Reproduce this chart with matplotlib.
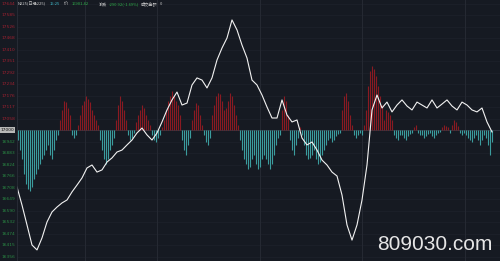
import numpy as np
import matplotlib
matplotlib.use("Agg")
import matplotlib.pyplot as plt

plt.rcParams['font.family'] = ['Noto Sans CJK SC', 'DejaVu Sans']

BASE = 17000
# Index level (white line), sampled along the session
line_vals = [16710, 16618, 16517, 16415, 16390, 16451, 16532, 16583, 16608, 16629,
             16644, 16685, 16720, 16756, 16807, 16822, 16786, 16797, 16837, 16858,
             16888, 16898, 16924, 16949, 16985, 17010, 16975, 16949, 16985, 17041,
             17102, 17153, 17193, 17127, 17137, 17229, 17265, 17254, 17214, 17265,
             17356, 17417, 17468, 17560, 17509, 17432, 17366, 17254, 17229, 17178,
             17117, 17061, 17061, 17153, 17076, 17041, 17051, 16959, 16924, 16939,
             16898, 16847, 16822, 16786, 16766, 16669, 16517, 16440, 16517, 16644,
             16822, 17102, 17178, 17112, 17142, 17092, 17127, 17153, 17122, 17102,
             17142, 17127, 17112, 17153, 17112, 17132, 17153, 17122, 17102, 17142,
             17127, 17102, 17092, 17112, 17041, 16990]

# Deviation bars relative to 17000 (points)
bar_vals = [-50, -100, -150,
            -225, -275, -300, -310, -290, -250,
            -225, -200, -175, -150, -125,
            -100, -75, -125, -150, -100, -50, -25,
            50, 100, 150, 140, 110, 75,
            -25, -40, -25, 25,
            75, 125, 150, 175, 160, 140, 100, 75, 50, 25,
            -50, -100, -150, -175, -150, -100, -75, -40,
            50, 125, 175, 150, 100, 50,
            -25, -50, -40, -15,
            40, 75, 100, 125, 110, 75, 50, 25,
            -25, -50, -60, -40, -25, 15,
            50, 100, 150, 175, 200, 175, 150, 125, 75,
            -50, -100, -125, -75, -40,
            50, 100, 135, 125, 75, 25,
            -25, -60, -75, -40,
            75, 125, 175, 190, 185, 150, 100, 110, 150, 190, 175, 125, 75, 25,
            -50, -100, -150, -175, -200, -190, -150, -125, -175, -200, -190, -150,
            -125, -150, -175, -200, -175, -125, -75, -40, -25,
            100, 175, 150, 75,
            -50, -100, -125, -75, -40, 15,
            -25, -75, -125, -150, -140, -125, -100, -150, -175, -165, -125, -100,
            -75, -50, -40, -60, -50, -30, -20, -15,
            100, 175, 190, 150, 75, 25,
            -25, -40, -25, -15, -25, 25,
            100, 225, 300, 325, 310, 275, 225, 175, 125, 50,
            100, 90, 75, 50, -25, -40, -50, -25,
            -25, -40, -50, -30, -20, -15, 15, 25, -15, -25,
            -25, -40, -30, -20, -15, -30, -40, -25, -15, -10, 15, 25, 20, 15, -15,
            25, 50, 40, 20, -15, -25, -15,
            -25, -40, -50, -60, -40, -25, -50, -75, -50, -25, -40, -75, -125, -60]

tick_step = 58.5
tick_vals = [BASE + tick_step * k for k in range(-11, 12)]

header_texts = ["N225(日经225)", "15:25", "价", "16901.42", "涨跌", "-290.92(-1.69%)", "成交金额", "0"]
header_colors = ["#c8c8c8", "#3fb8c8", "#c8c8c8", "#2fb04a", "#c8c8c8", "#2fb04a", "#c8c8c8", "#c8c8c8"]
header_x = [18, 50, 64, 72, 99, 109, 141, 160]

bg = "#161a22"
W, H = 500, 261
fig = plt.figure(figsize=(W / 100, H / 100), dpi=100, facecolor=bg)
ax = fig.add_axes([17 / W, 0, (W - 17) / W, 1])
ax.set_facecolor(bg)

px_per_pt = 11.5 / tick_step
ymax = BASE + 130 / px_per_pt
ymin = BASE - (H - 130) / px_per_pt
ax.set_ylim(ymin, ymax)
ax.set_xlim(17, W)

# grid
for v in tick_vals:
    ax.axhline(v, color="#1d212a", lw=0.6, zorder=0)
for xv in [85, 157, 260, 362, 465]:
    ax.axvline(xv, color="#262a33", lw=0.7, zorder=0)

bx = 18 + 2 * np.arange(len(bar_vals))
bv = np.array(bar_vals, dtype=float)
cols = np.where(bv >= 0, "#8a1a22", "#3b9c9e")
ax.vlines(bx, BASE, BASE + bv, colors=cols, lw=0.8, zorder=2)

lx = 17 + 5 * np.arange(len(line_vals))
ax.plot(lx, line_vals, color="#f2f2f2", lw=0.8, zorder=3)

ax.axhline(BASE, color="#3a3e48", lw=0.5, zorder=1)

for s in ax.spines.values():
    s.set_visible(False)
ax.set_xticks([])
ax.set_yticks([])

# left labels
for v in tick_vals:
    yf = (v - ymin) / (ymax - ymin)
    if abs(v - BASE) < 1e-6:
        fig.text(1 / W, yf, f"{v:.0f}", fontsize=3.2, color="#101010", va="center", ha="left",
                 family="DejaVu Sans",
                 bbox=dict(boxstyle="square,pad=0.15", fc="#b8b8b8", ec="none"))
    else:
        c = "#a02030" if v > BASE else "#2a8a44"
        fig.text(1.5 / W, yf, f"{v:.0f}", fontsize=3.2, color=c, va="center", ha="left",
                 family="DejaVu Sans")

# divider line for left labels
fig.add_artist(plt.Line2D([17 / W, 17 / W], [0, 1], color="#2a2e38", lw=0.6))

# header
for txt, c, xh in zip(header_texts, header_colors, header_x):
    fig.text(xh / W, 1 - 4 / H, txt, fontsize=3.0, color=c, va="center", ha="left",
             family="Noto Sans CJK SC")

fig.text(492 / W, 1 - 245 / H, "809030.com", fontsize=15, color="#e6e6e6",
         ha="right", va="center", family="Liberation Sans")

fig.savefig("out.png", dpi=100, facecolor=bg)
